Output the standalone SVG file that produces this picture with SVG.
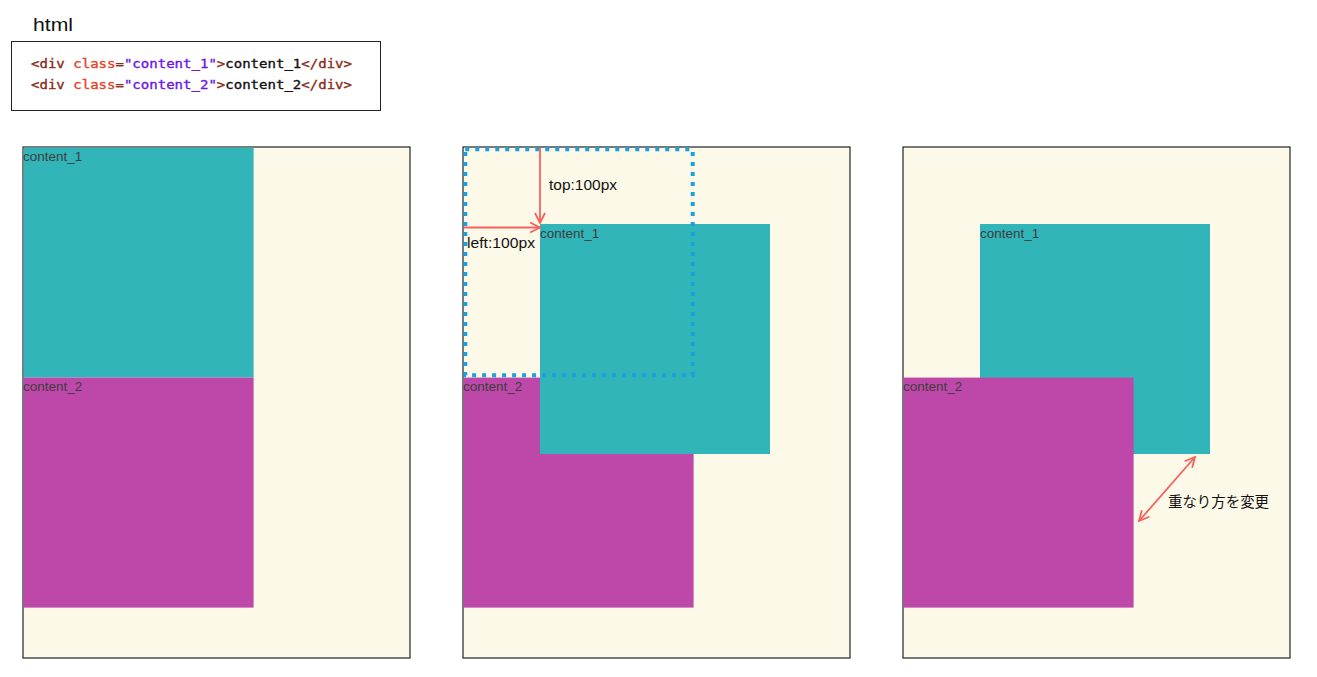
<svg xmlns="http://www.w3.org/2000/svg" width="1317" height="677" viewBox="0 0 1317 677">
<defs>
<style>
.panel{fill:#fcf9e8;stroke:#222;stroke-width:1.2}
.c1{fill:#31b5b9}
.c2{fill:#bd48a9}
.lbl{font-family:"Liberation Sans",Arial,sans-serif;font-size:13.5px;fill:#3d3d3d}
.note{font-family:"Liberation Sans","Noto Sans CJK JP",Arial,sans-serif;font-size:15px;fill:#111}
.code{font-family:"DejaVu Sans Mono","Liberation Mono",monospace;font-size:13px;stroke-width:0.35}
.tag{fill:#8a2a1a;stroke:#8a2a1a}.attr{fill:#e8402a;stroke:#e8402a}.str{fill:#6b16e6;stroke:#6b16e6}.txt{fill:#111;stroke:#111}
.arr{stroke:#f4625c;stroke-width:1.8;fill:none}
</style>
<marker id="ah" viewBox="0 0 12 12" refX="11" refY="6" markerWidth="12" markerHeight="12" markerUnits="userSpaceOnUse" orient="auto-start-reverse">
<path d="M1,1 L11,6 L1,11" fill="none" stroke="#f4625c" stroke-width="1.8"/>
</marker>
</defs>
<rect width="1317" height="677" fill="#fff"/>
<g id="html-label"><text x="33" y="31" font-family="Liberation Sans,Arial,sans-serif" font-size="19" fill="#111" textLength="40" lengthAdjust="spacingAndGlyphs">html</text></g>
<g id="code-box">
<rect x="11.5" y="41.5" width="369" height="69" fill="#fff" stroke="#222" stroke-width="1"/>
<text class="code" x="31" y="68" textLength="321" lengthAdjust="spacingAndGlyphs"><tspan class="tag">&lt;div</tspan> <tspan class="attr">class</tspan><tspan class="tag">=</tspan><tspan class="str">"content_1"</tspan><tspan class="tag">&gt;</tspan><tspan class="txt">content_1</tspan><tspan class="tag">&lt;/div&gt;</tspan></text>
<text class="code" x="31" y="89" textLength="321" lengthAdjust="spacingAndGlyphs"><tspan class="tag">&lt;div</tspan> <tspan class="attr">class</tspan><tspan class="tag">=</tspan><tspan class="str">"content_2"</tspan><tspan class="tag">&gt;</tspan><tspan class="txt">content_2</tspan><tspan class="tag">&lt;/div&gt;</tspan></text>
</g>
<g id="panel1">
<rect class="panel" x="23" y="147" width="387" height="511"/>
<rect class="c1" x="23.6" y="147.6" width="230" height="230"/>
<rect class="c2" x="23.6" y="377.6" width="230" height="230"/>
<text class="lbl" x="23" y="161">content_1</text>
<text class="lbl" x="23" y="391">content_2</text>
</g>
<g id="panel2">
<rect class="panel" x="463" y="147" width="387" height="511"/>
<rect class="c2" x="463.6" y="377.6" width="230" height="230"/>
<rect class="c1" x="540" y="224" width="230" height="230"/>
<text class="lbl" x="463" y="391">content_2</text>
<text class="lbl" x="540" y="238">content_1</text>
<rect x="465.3" y="149.3" width="227.4" height="226" fill="none" stroke="#1aa0dc" stroke-width="4" stroke-dasharray="4 6"/>
</g>
<g id="panel3">
<rect class="panel" x="903" y="147" width="387" height="511"/>
<rect class="c1" x="980" y="224" width="230" height="230"/>
<rect class="c2" x="903.6" y="377.6" width="230" height="230"/>
<text class="lbl" x="980" y="238">content_1</text>
<text class="lbl" x="903" y="391">content_2</text>
</g>
<g id="connectors">
<line class="arr" x1="540" y1="148" x2="540" y2="223" marker-end="url(#ah)"/>
<line class="arr" x1="464" y1="227.5" x2="540" y2="227.5" marker-end="url(#ah)"/>
<line class="arr" x1="1139" y1="521" x2="1195" y2="457" marker-start="url(#ah)" marker-end="url(#ah)"/>
</g>
<g id="notes">
<text class="note" x="549" y="190" textLength="68" lengthAdjust="spacingAndGlyphs">top:100px</text>
<text class="note" x="467" y="248" textLength="68" lengthAdjust="spacingAndGlyphs">left:100px</text>
<text class="note" x="1168" y="507" font-size="14.5" textLength="101" lengthAdjust="spacingAndGlyphs">重なり方を変更</text>
</g>
</svg>
